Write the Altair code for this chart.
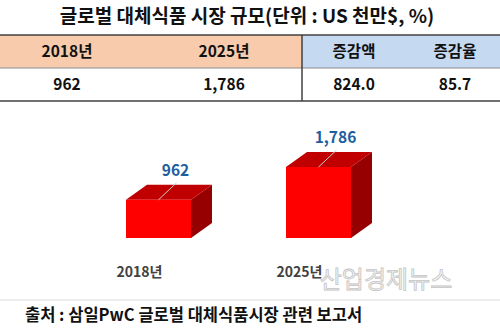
import altair as alt
import pandas as pd

# ---------------- data ----------------
title_text = "글로벌 대체식품 시장 규모(단위 : US 천만$, %)"
header_labels = ["2018년", "2025년", "증감액", "증감율"]
row_values = ["962", "1,786", "824.0", "85.7"]
years = ["2018년", "2025년"]
market_size = [962, 1786]
value_labels = ["962", "1,786"]
source_text = "출처 : 삼일PwC 글로벌 대체식품시장 관련 보고서"
watermark_text = "산업경제뉴스"

# ---------------- layout / style ----------------
W, H = 500, 336
FONT = "Noto Sans CJK KR"
col_centers = [67, 224, 354, 455]
header_y, value_y = 51.5, 85
table_top, table_mid, table_bot, table_split = 35, 68, 101, 302

PX_PER_UNIT = 0.0397
BASE_PX = 238
xs = alt.Scale(domain=[0, 1], range=[158.5, 318.5])
ys = alt.Scale(domain=[0, 2000], range=[BASE_PX, BASE_PX - 2000 * PX_PER_UNIT])
HALF = 32.5 / 160
DX = 21 / 160
DY = 15 / PX_PER_UNIT

FRONT = "#ff0000"
TOP = "#c00000"
SIDE = "#960000"

# ---------------- frames ----------------
bars = pd.DataFrame({"idx": list(range(len(years))), "year": years,
                     "value": market_size, "label": value_labels})
bars["x0"] = bars["idx"] - HALF
bars["x1"] = bars["idx"] + HALF
bars["base"] = 0.0
bars["lx2"] = bars["idx"] + 18 / 160
bars["ly2"] = bars["value"] + 17 / PX_PER_UNIT

side_rows, top_rows = [], []
for i, v, yr in zip(bars["idx"], market_size, years):
    side_rows += [
        {"year": yr, "x": i + HALF, "yt": v, "yb": 0.0},
        {"year": yr, "x": i + HALF + DX, "yt": v + DY, "yb": DY},
    ]
    top_rows += [
        {"year": yr, "x": i - HALF, "yt": v, "yb": v},
        {"year": yr, "x": i - HALF + DX, "yt": v + DY, "yb": v},
        {"year": yr, "x": i + HALF, "yt": v + DY, "yb": v},
        {"year": yr, "x": i + HALF + DX, "yt": v + DY, "yb": v + DY},
    ]
side_df = pd.DataFrame(side_rows)
top_df = pd.DataFrame(top_rows)

cells = pd.DataFrame({
    "text": header_labels + row_values,
    "cx": col_centers + col_centers,
    "cy": [header_y] * 4 + [value_y] * 4,
})

one = pd.DataFrame({"k": [0]})
NOX = dict(axis=None)

# ---------------- layers ----------------
peach = alt.Chart(one).mark_rect(color="#F8CBAD").encode(
    x=alt.value(0), x2=alt.value(table_split), y=alt.value(table_top), y2=alt.value(table_mid))
blue = alt.Chart(one).mark_rect(color="#C5D9F1").encode(
    x=alt.value(table_split), x2=alt.value(W), y=alt.value(table_top), y2=alt.value(table_mid))

def hline(y, color, w):
    return alt.Chart(one).mark_rule(color=color, strokeWidth=w).encode(
        x=alt.value(0), x2=alt.value(W), y=alt.value(y))

lines = [
    hline(table_top, "#404040", 1.5),
    hline(table_mid, "#8c8c8c", 1),
    hline(table_bot, "#404040", 1.5),
    hline(300, "#d9d9d9", 1),
    alt.Chart(one).mark_rule(color="#404040", strokeWidth=1.5).encode(
        x=alt.value(table_split), y=alt.value(table_top), y2=alt.value(table_bot)),
]

title = alt.Chart(one).mark_text(font=FONT, fontSize=19, fontWeight="bold",
                                 color="#111111", baseline="middle").encode(
    x=alt.value(247), y=alt.value(17), text=alt.value(title_text))

cell_text = alt.Chart(cells).mark_text(font=FONT, fontSize=15.5, fontWeight="bold",
                                       color="#111111", baseline="middle").encode(
    x=alt.X("cx:Q", scale=None, axis=None), y=alt.Y("cy:Q", scale=None, axis=None),
    text="text:N")

front = alt.Chart(bars).mark_rect(color=FRONT).encode(
    x=alt.X("x0:Q", scale=xs, **NOX), x2="x1:Q",
    y=alt.Y("value:Q", scale=ys, **NOX), y2="base:Q")

top = alt.Chart(top_df).mark_area(color=TOP, interpolate="linear").encode(
    x=alt.X("x:Q", scale=xs, **NOX),
    y=alt.Y("yt:Q", scale=ys, **NOX), y2="yb:Q", detail="year:N")

side = alt.Chart(side_df).mark_area(color=SIDE, interpolate="linear").encode(
    x=alt.X("x:Q", scale=xs, **NOX),
    y=alt.Y("yt:Q", scale=ys, **NOX), y2="yb:Q", detail="year:N")

leader = alt.Chart(bars).mark_rule(color="#d0d0d0", strokeWidth=1).encode(
    x=alt.X("idx:Q", scale=xs, **NOX), x2="lx2:Q",
    y=alt.Y("value:Q", scale=ys, **NOX), y2="ly2:Q")

val_text = alt.Chart(bars).mark_text(font=FONT, fontSize=15.5, fontWeight="bold",
                                     color="#1F5FA0", baseline="middle", dx=17, dy=-29).encode(
    x=alt.X("idx:Q", scale=xs, **NOX), y=alt.Y("value:Q", scale=ys, **NOX), text="label:N")

year_text = alt.Chart(bars).mark_text(font=FONT, fontSize=14, fontWeight="bold",
                                      color="#404040", baseline="middle", dx=-19).encode(
    x=alt.X("idx:Q", scale=xs, **NOX), y=alt.value(273), text="year:N")

source = alt.Chart(one).mark_text(font=FONT, fontSize=16.5, fontWeight="bold", color="#111111",
                                  baseline="middle", align="left").encode(
    x=alt.value(25), y=alt.value(316), text=alt.value(source_text))

watermark = alt.Chart(one).mark_text(font=FONT, fontSize=24, fontWeight="normal",
                                     fill="#f6f6f6", stroke="#c4c4c4", strokeWidth=0.8,
                                     baseline="middle").encode(
    x=alt.value(386), y=alt.value(281), text=alt.value(watermark_text))

chart = alt.layer(
    peach, blue, *lines, title, cell_text,
    side, top, front, leader, val_text, year_text, watermark, source,
).resolve_scale(x="independent", y="independent").properties(
    width=W, height=H, padding=0, autosize=alt.AutoSizeParams(type="none"),
    background="white",
).configure_view(stroke=None)

chart.save("out.html", embed_options={"renderer": "svg", "actions": False})
